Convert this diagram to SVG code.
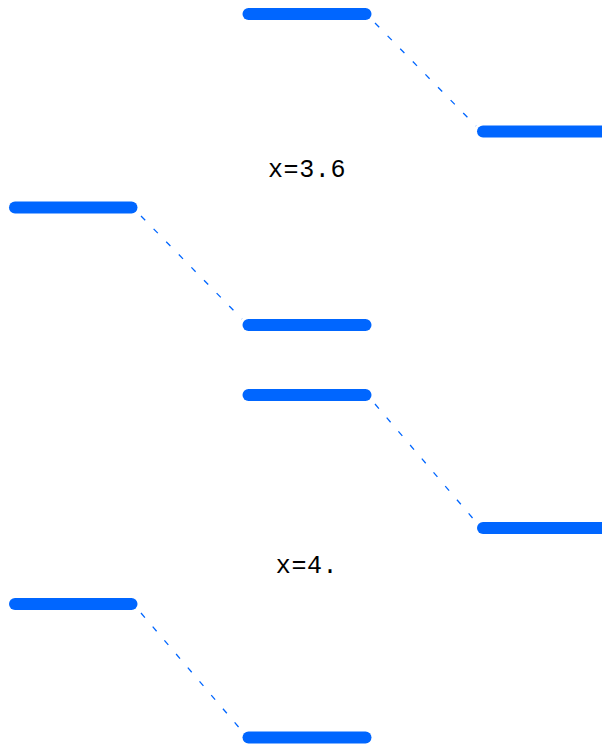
<svg xmlns="http://www.w3.org/2000/svg" width="602" height="746" viewBox="0 0 602 746">
<style>
.bar{stroke:#0066ff;stroke-width:12;stroke-linecap:round;fill:none}
.dash{stroke:#0066ff;stroke-width:1.3;stroke-dasharray:6,12;fill:none}
.lbl{font-family:"Liberation Mono","Courier New",monospace;font-size:25px;fill:#000;text-anchor:middle;letter-spacing:0.6px}
</style>
<rect width="602" height="746" fill="#fff"/>
<g id="connectors">
<line class="dash" x1="375" y1="23" x2="476" y2="126"/>
<line class="dash" x1="141" y1="216" x2="242" y2="319"/>
<line class="dash" x1="375" y1="404" x2="476" y2="522"/>
<line class="dash" x1="141" y1="613" x2="242" y2="731"/>
</g>
<g id="panel1-top"><line class="bar" x1="248.5" y1="14" x2="365.5" y2="14"/></g>
<g id="panel1-right"><line class="bar" x1="483" y1="131.5" x2="620" y2="131.5"/></g>
<g id="label1"><text class="lbl" x="307" y="177">x=3.6</text></g>
<g id="panel2-left"><line class="bar" x1="15" y1="207.5" x2="131.5" y2="207.5"/></g>
<g id="panel2-mid"><line class="bar" x1="248.5" y1="325" x2="365.5" y2="325"/></g>
<g id="panel3-top"><line class="bar" x1="248.5" y1="395" x2="365.5" y2="395"/></g>
<g id="panel3-right"><line class="bar" x1="483" y1="528" x2="620" y2="528"/></g>
<g id="label2"><text class="lbl" x="307" y="573">x=4.</text></g>
<g id="panel4-left"><line class="bar" x1="15" y1="604" x2="131.5" y2="604"/></g>
<g id="panel4-bottom"><line class="bar" x1="248.5" y1="737.5" x2="365.5" y2="737.5"/></g>
</svg>
